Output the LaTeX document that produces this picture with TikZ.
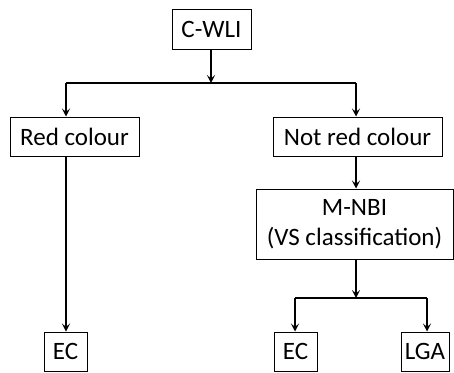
\documentclass[tikz,border=0pt]{standalone}
\usepackage{fontspec}
\setmainfont{Carlito}
\usetikzlibrary{arrows.meta}
\begin{document}
\begin{tikzpicture}[x=1pt,y=-1pt,
  box/.style={draw,line width=1pt,inner sep=0pt,font=\fontsize{25}{30}\selectfont},
  conn/.style={line width=1.3pt},
  arr/.style={conn,-{Stealth[length=8pt,width=8pt,inset=3.5pt]}}]
\useasboundingbox (0,0) rectangle (454,372);
\node[box,minimum width=79pt,minimum height=40pt] (cwli) at (211.5,29) {C-WLI};
\node[box,minimum width=129pt,minimum height=39pt] (red) at (74.5,136.5) {Red colour};
\node[box,minimum width=169pt,minimum height=39pt] (notred) at (357.5,136.5) {Not red colour};
\node[box,minimum width=197pt,minimum height=70pt,align=center] (mnbi) at (354.5,224) {M-NBI\\(VS classification)};
\node[box,minimum width=43pt,minimum height=39pt] (ec1) at (65.5,351.5) {EC};
\node[box,minimum width=43pt,minimum height=39pt] (ec2) at (295.5,351.5) {EC};
\node[box,minimum width=48pt,minimum height=39pt] (lga) at (425,351.5) {LGA};
\coordinate (j1) at (211,83);
\coordinate (jl) at (66,83);
\coordinate (jr) at (356,83);
\coordinate (j2) at (356,298);
\coordinate (bl) at (295,298);
\coordinate (br) at (427,298);
\draw[arr] (cwli.south -| j1) -- (j1);
\draw[conn] (jl) -- (jr);
\draw[arr] (jl) -- (jl |- red.north);
\draw[arr] (jr) -- (jr |- notred.north);
\draw[arr] (red.south -| jl) -- (jl |- ec1.north);
\draw[arr] (notred.south -| jr) -- (jr |- mnbi.north);
\draw[arr] (mnbi.south -| j2) -- (j2);
\draw[conn] (bl) -- (br);
\draw[arr] (bl) -- (bl |- ec2.north);
\draw[arr] (br) -- (br |- lga.north);
\end{tikzpicture}
\end{document}
